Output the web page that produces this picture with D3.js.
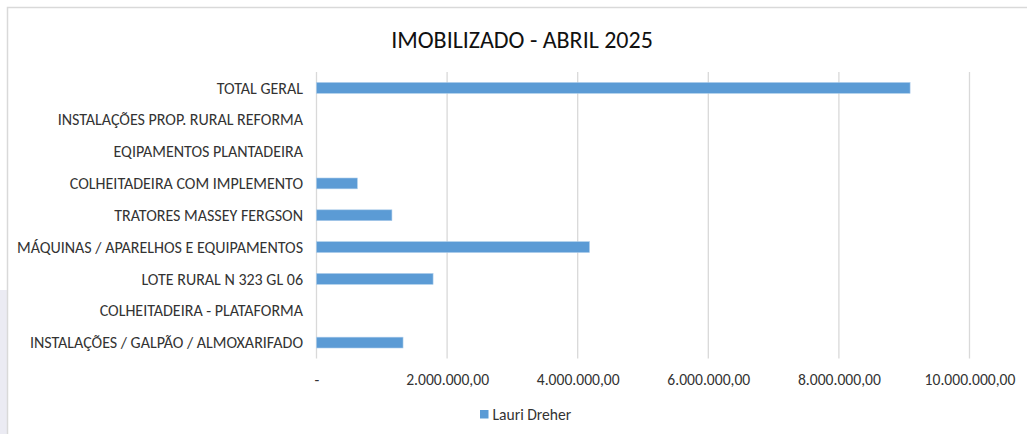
<!DOCTYPE html>
<html>
<head>
<meta charset="utf-8">
<script src="https://cdn.jsdelivr.net/npm/d3@7"></script>
<style>
  body { margin: 0; background: #fff; }
  svg { display: block; font-family: Carlito, Calibri, Lato, sans-serif; }
</style>
</head>
<body>
<svg id="chart" width="1027" height="434"></svg>
<script>
// data (values in R$)
const categories = [
  'TOTAL GERAL',
  'INSTALAÇÕES PROP. RURAL REFORMA',
  'EQIPAMENTOS PLANTADEIRA',
  'COLHEITADEIRA COM IMPLEMENTO',
  'TRATORES MASSEY FERGSON',
  'MÁQUINAS / APARELHOS E EQUIPAMENTOS',
  'LOTE RURAL N 323 GL 06',
  'COLHEITADEIRA - PLATAFORMA',
  'INSTALAÇÕES / GALPÃO / ALMOXARIFADO'
]
const values = [9090000, 0, 0, 625000, 1155000, 4180000, 1785000, 0, 1325000]
const xTicks = [0, 2000000, 4000000, 6000000, 8000000, 10000000]
const seriesName = 'Lauri Dreher'
const title = 'IMOBILIZADO - ABRIL 2025'

const svg = d3.select('#chart')
const margin = { left: 316.5, right: 57.5, top: 72, bottom: 75.5 }
const W = 1027, H = 434
const FS = 15.6

// faint backdrop at the left edge + chart frame
svg.append('rect').attr('x', 0).attr('y', 290).attr('width', 7).attr('height', 144)
  .attr('fill', '#ebebf3')
svg.append('path')
  .attr('d', 'M7.5,434 V7.5 H1027')
  .attr('fill', 'none').attr('stroke', '#d9d9d9').attr('stroke-width', 1.5)

const x = d3.scaleLinear().domain([0, 10000000]).range([margin.left, W - margin.right])
const y = d3.scaleBand().domain(categories).range([margin.top, H - margin.bottom])
  .paddingInner(0.66).paddingOuter(0.33)

const fmt = v => v === 0 ? '-' : d3.format(',.2f')(v).replace(/,/g, '#').replace('.', ',').replace(/#/g, '.')

// gridlines
svg.append('g').selectAll('line')
  .data(xTicks)
  .join('line')
  .attr('x1', d => x(d)).attr('x2', d => x(d))
  .attr('y1', margin.top).attr('y2', H - margin.bottom)
  .attr('stroke', '#d9d9d9').attr('stroke-width', 1.3)

// bars
svg.append('g').selectAll('rect')
  .data(categories.map((c, i) => ({ c, v: values[i] })).filter(d => d.v > 0))
  .join('rect')
  .attr('x', x(0))
  .attr('y', d => y(d.c))
  .attr('width', d => x(d.v) - x(0))
  .attr('height', y.bandwidth())
  .attr('fill', '#5b9bd5')
  .attr('stroke', '#a9cbea').attr('stroke-width', 0.6)

// category labels
svg.append('g').selectAll('text')
  .data(categories)
  .join('text')
  .attr('x', 303)
  .attr('y', d => y(d) + y.bandwidth() / 2)
  .attr('dy', '0.35em')
  .attr('text-anchor', 'end')
  .attr('font-size', 16)
  .attr('fill', '#333')
  .text(d => d)

// x axis labels
const xAxis = d3.axisBottom(x).tickValues(xTicks).tickFormat(fmt).tickSize(0).tickPadding(0)
const ax = svg.append('g').attr('transform', `translate(0,${H - margin.bottom + 26})`).call(xAxis)
ax.select('.domain').remove()
ax.selectAll('text').attr('font-size', FS).attr('fill', '#333')
  .attr('font-family', 'Carlito, Calibri, Lato, sans-serif').attr('dy', '0')

// title
svg.append('text')
  .attr('x', 522).attr('y', 48)
  .attr('text-anchor', 'middle')
  .attr('font-size', 24)
  .attr('fill', '#111')
  .text(title)

// legend
const lg = svg.append('g').attr('transform', 'translate(480,410)')
lg.append('rect').attr('width', 8.5).attr('height', 8.5).attr('fill', '#5b9bd5')
lg.append('text').attr('x', 12.5).attr('y', 9.5).attr('font-size', FS).attr('fill', '#333')
  .text(seriesName)
</script>
</body>
</html>
